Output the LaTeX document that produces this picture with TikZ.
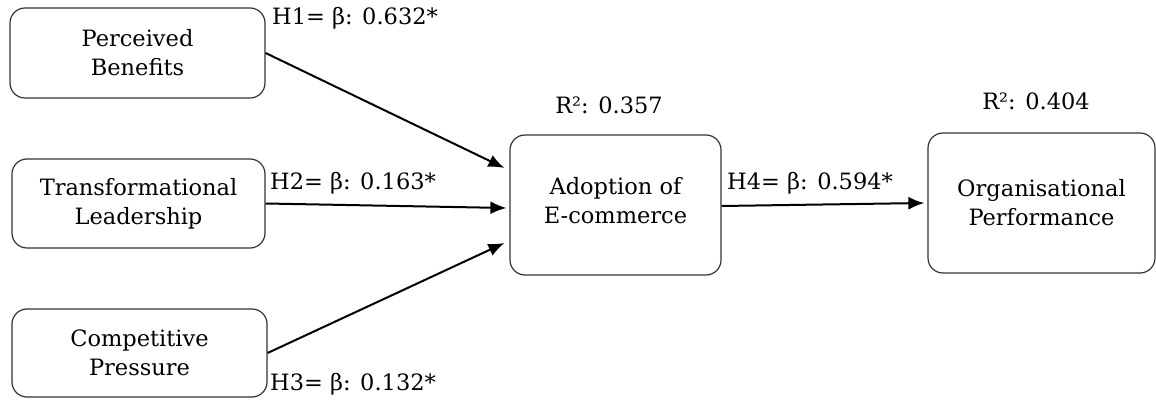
\documentclass[tikz,border=0pt]{standalone}
\usepackage{fontspec}
\setmainfont{DejaVu Serif}
\usetikzlibrary{arrows.meta,calc}
\begin{document}
\begin{tikzpicture}[x=1pt,y=1pt,
  box/.style={draw=black!80,line width=1.2pt,rounded corners=15pt,align=center,
    font=\fontsize{22.5}{29}\selectfont,inner sep=0pt},
  lbl/.style={font=\fontsize{22.5}{26}\selectfont,inner sep=0pt},
  arr/.style={line width=2pt,-{Latex[length=16pt,width=13pt]}}]
\useasboundingbox (0,0) rectangle (1156,399);
\node[box,minimum width=255,minimum height=90] (PB) at (137.5,346) {Perceived\\Benefits};
\node[box,minimum width=253,minimum height=89] (TL) at (138.5,195.5) {Transformational\\Leadership};
\node[box,minimum width=255,minimum height=88] (CP) at (139.5,46) {Competitive\\Pressure};
\node[box,minimum width=211,minimum height=140] (AE) at (615.5,194) {};
\node[align=center,font=\fontsize{22.5}{29}\selectfont,inner sep=0pt] (AEt) at ($(AE.center)+(0,4)$) {Adoption of\\E-commerce};
\node[box,minimum width=227,minimum height=140] (OP) at (1041.5,196) {Organisational\\Performance};
\coordinate (e1) at ($(AE.west)+(-5,37)$);
\coordinate (e2) at ($(AE.west)+(-3,-3)$);
\coordinate (e3) at ($(AE.west)+(-5,-38)$);
\coordinate (e4) at ($(OP.west)+(-3,0)$);
\draw[arr] (PB.east) -- (e1);
\draw[arr] (TL.east) -- (e2);
\draw[arr] (CP.east) -- (e3);
\draw[arr] ($(AE.east)+(0,-1)$) -- (e4);
\node[lbl,anchor=west] (l1) at (272,381) {H1= β: 0.632*};
\node[lbl,anchor=west] (l2) at (270,216) {H2= β: 0.163*};
\node[lbl,anchor=west] (l3) at (270,15) {H3= β: 0.132*};
\node[lbl,anchor=west] (l4) at (727,216) {H4= β: 0.594*};
\node[lbl] (r1) at (609,294) {R²: 0.357};
\node[lbl] (r2) at (1036,298) {R²: 0.404};
\end{tikzpicture}
\end{document}
